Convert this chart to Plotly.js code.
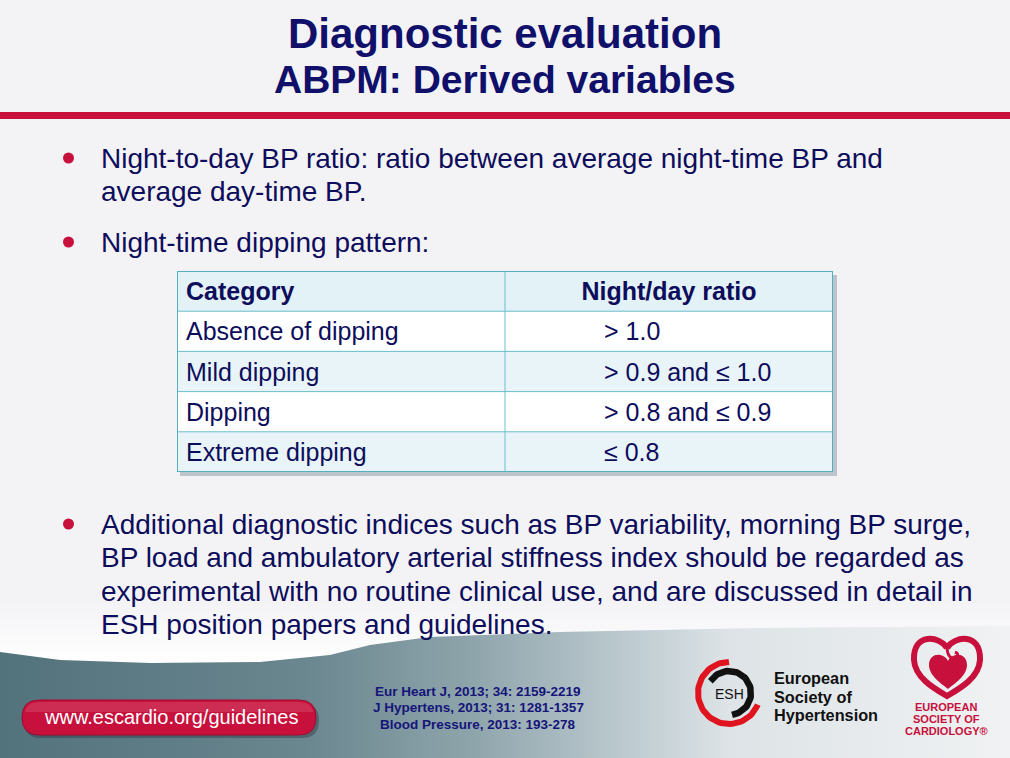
<!DOCTYPE html>
<html>
<head>
<meta charset="utf-8">
<script src="https://cdn.plot.ly/plotly-3.0.1.min.js"></script>
<style>
  html, body { margin: 0; padding: 0; background: #f3f3f6; }
  #chart { width: 1010px; height: 758px; }
</style>
</head>
<body>
<div id="chart"></div>
<script>
// ---------- content ----------
const titleLines = ['Diagnostic evaluation', 'ABPM: Derived variables'];

const bullet1 = ['Night-to-day BP ratio: ratio between average night-time BP and',
                 'average day-time BP.'];
const bullet2 = ['Night-time dipping pattern:'];
const bullet3 = ['Additional diagnostic indices such as BP variability, morning BP surge,',
                 'BP load and ambulatory arterial stiffness index should be regarded as',
                 'experimental with no routine clinical use, and are discussed in detail in',
                 'ESH position papers and guidelines.'];

const tableHeaders = ['Category', 'Night/day ratio'];
const categories = ['Absence of dipping', 'Mild dipping', 'Dipping', 'Extreme dipping'];
const ratios = ['> 1.0', '> 0.9 and \u2264 1.0', '> 0.8 and \u2264 0.9', '\u2264 0.8'];

const references = ['Eur Heart J, 2013; 34: 2159-2219',
                    'J Hypertens, 2013; 31: 1281-1357',
                    'Blood Pressure, 2013: 193-278'];
const urlText = 'www.escardio.org/guidelines';
const eshLines = ['European', 'Society of', 'Hypertension'];
const escLines = ['EUROPEAN', 'SOCIETY OF', 'CARDIOLOGY\u00ae'];

// ---------- styling ----------
const FONT = 'Liberation Sans, Arial, sans-serif';
const NAVY = '#10106a';
const TEXT = '#0d0d5c';
const RED = '#c8103c';
const W = 1010, H = 758;

const annotations = [];
const shapes = [];

function addText(text, x, y, size, color, opts) {
  opts = opts || {};
  annotations.push(Object.assign({
    text: text, x: x, y: y, xref: 'x', yref: 'y', showarrow: false,
    xanchor: 'left', yanchor: 'middle',
    font: { family: FONT, size: size, color: color, weight: opts.bold ? 'bold' : 'normal' }
  }, opts.extra || {}));
}

// Title
addText(titleLines[0], W / 2, 33, 42, NAVY, { bold: true, extra: { xanchor: 'center' } });
addText(titleLines[1], W / 2, 79, 39, NAVY, { bold: true, extra: { xanchor: 'center' } });

// red rule under title
shapes.push({ type: 'rect', xref: 'x', yref: 'y', x0: 0, x1: W, y0: 112, y1: 119,
  fillcolor: RED, line: { width: 0 }, layer: 'above' });

// bullets
function addBullet(lines, yStart, step) {
  shapes.push({ type: 'circle', xref: 'x', yref: 'y', x0: 63, x1: 74, y0: yStart - 5.5, y1: yStart + 5.5,
    fillcolor: RED, line: { width: 0 }, layer: 'above' });
  lines.forEach((t, i) => addText(t, 99, yStart + i * step, 28, TEXT));
}
addBullet(bullet1, 158, 33);
addBullet(bullet2, 242, 33);
addBullet(bullet3, 524, 33.6);

// ---------- footer background (decoration) ----------
const footer = {
  type: 'scatter', mode: 'lines',
  x: [0, 60, 150, 260, 330, 370, 430, 560, 760, 1010, 1010, 0],
  y: [652, 660, 663, 662, 655, 645, 637, 632, 628, 626, 758, 758],
  fill: 'toself', line: { width: 0, color: 'rgba(0,0,0,0)' }, hoverinfo: 'skip', showlegend: false,
  fillgradient: { type: 'horizontal',
    colorscale: [[0, '#52727c'], [0.3, '#6a868f'], [0.47, '#8fa5ac'], [0.62, '#bccacf'],
                 [0.72, '#dde3e6'], [1, '#f0f2f3']] }
};
const wave = {
  type: 'scatter', mode: 'lines',
  x: [0, 1010, 1010, 760, 560, 430, 370, 330, 260, 150, 60, 0],
  y: [600, 595, 626, 628, 632, 637, 645, 655, 662, 663, 660, 652],
  fill: 'toself', line: { width: 0, color: 'rgba(0,0,0,0)' }, hoverinfo: 'skip', showlegend: false,
  fillgradient: { type: 'vertical', start: 598, stop: 660,
    colorscale: [[0, 'rgba(255,255,255,0)'], [1, 'rgba(255,255,255,0.95)']] }
};

// URL button
shapes.push({ type: 'path', xref: 'x', yref: 'y', layer: 'above',
  path: 'M 41,703 L 302,703 Q 319,703 319,720.5 Q 319,738 302,738 L 41,738 Q 24,738 24,720.5 Q 24,703 41,703 Z',
  fillcolor: 'rgba(30,40,50,0.35)', line: { width: 0 } });
shapes.push({ type: 'path', xref: 'x', yref: 'y', layer: 'above',
  path: 'M 39,700 L 299,700 Q 316,700 316,717.5 Q 316,735 299,735 L 39,735 Q 22,735 22,717.5 Q 22,700 39,700 Z',
  fillcolor: RED, line: { width: 1, color: '#a00a30' } });
shapes.push({ type: 'path', xref: 'x', yref: 'y', layer: 'above',
  path: 'M 40,702 L 298,702 Q 312,702 313,712 L 25,712 Q 26,702 40,702 Z',
  fillcolor: 'rgba(255,255,255,0.12)', line: { width: 0 } });
addText(urlText, 171, 717, 20, '#ffffff', { extra: { xanchor: 'center' } });

// references
references.forEach((r, i) => addText(r, 478, 691 + i * 16.5, 13.5, '#15157a',
  { bold: true, extra: { xanchor: 'center' } }));

// ESH logo arcs (decoration)
function arc(cx, cy, r, a0, a1, n) {
  const xs = [], ys = [];
  for (let k = 0; k <= n; k++) {
    const a = (a0 + (a1 - a0) * k / n) * Math.PI / 180;
    xs.push(cx + r * Math.cos(a)); ys.push(cy + r * Math.sin(a));
  }
  return { xs, ys };
}
const redArc = arc(729, 693, 31, -90, -338, 60);
const blackArc = arc(729, 693, 22, -148, 82, 60);
const eshRed = { type: 'scatter', mode: 'lines', x: redArc.xs, y: redArc.ys,
  line: { color: '#e0141e', width: 6 }, hoverinfo: 'skip', showlegend: false };
const eshBlack = { type: 'scatter', mode: 'lines', x: blackArc.xs, y: blackArc.ys,
  line: { color: '#111111', width: 6.5 }, hoverinfo: 'skip', showlegend: false };
addText('ESH', 729, 694, 14, '#111111', { extra: { xanchor: 'center' } });
eshLines.forEach((t, i) => addText(t, 772, 678 + i * 18.5, 16.3, '#111111', { bold: true }));

// ESC heart logo
shapes.push({ type: 'path', xref: 'x', yref: 'y', layer: 'above',
  path: 'M 947,648 C 940,636 913,632 914,660 C 915,678 935,689 947,696 C 959,689 979,678 980,660 C 981,632 954,636 947,648',
  fillcolor: 'rgba(0,0,0,0)', line: { color: RED, width: 6 } });
shapes.push({ type: 'path', xref: 'x', yref: 'y', layer: 'above',
  path: 'M 948,661 C 944,652 929,652 929,665 C 929,676 942,684 948,689 C 954,684 967,676 967,665 C 967,652 952,652 948,661 Z',
  fillcolor: RED, line: { width: 0 } });
shapes.push({ type: 'path', xref: 'x', yref: 'y', layer: 'above',
  path: 'M 947,648 Q 948,660 956,658 Q 960,654 955,652',
  fillcolor: 'rgba(0,0,0,0)', line: { color: RED, width: 3 } });
escLines.forEach((t, i) => addText(t, 946, 707 + i * 12, 11, RED,
  { bold: true, extra: { xanchor: 'center' } }));

// ---------- table (grid on a row-index axis spanning the table box) ----------
const T = { x0: 177, x1: 833, y0: 271, y1: 472 };
const TW = T.x1 - T.x0;
const nRows = categories.length + 1;
const LINE = '#6bbfcd';
shapes.push({ type: 'rect', xref: 'x', yref: 'y', x0: T.x0 + 3, x1: T.x1 + 4, y0: T.y0 + 4, y1: T.y1 + 4,
  fillcolor: 'rgba(90,110,120,0.35)', line: { width: 0 }, layer: 'below' });
for (let r = 0; r < nRows; r++) {
  const fill = r === 0 ? '#e3f2f6' : (r % 2 === 1 ? '#ffffff' : '#e8f4f8');
  shapes.push({ type: 'rect', xref: 'x2', yref: 'y2', x0: 0, x1: TW, y0: r - 0.5, y1: r + 0.5,
    fillcolor: fill, line: { width: 0 }, layer: 'below' });
  if (r > 0) shapes.push({ type: 'line', xref: 'x2', yref: 'y2', x0: 0, x1: TW, y0: r - 0.5, y1: r - 0.5,
    line: { color: LINE, width: 1 }, layer: 'below' });
}
shapes.push({ type: 'line', xref: 'x2', yref: 'y2', x0: TW / 2, x1: TW / 2, y0: -0.5, y1: nRows - 0.5,
  line: { color: LINE, width: 1 }, layer: 'below' });
shapes.push({ type: 'rect', xref: 'x2', yref: 'y2', x0: 0, x1: TW, y0: -0.5, y1: nRows - 0.5,
  fillcolor: 'rgba(0,0,0,0)', line: { color: '#52b0c2', width: 2 }, layer: 'below' });

// table text
const rowIdx = categories.map((_, i) => i + 1);
const COL1_X = 9, COL2_X = 427, HDR2_X = TW * 0.75, DY = 0.07;
const TSIZE = 25;
const txtBase = { type: 'scatter', mode: 'text', xaxis: 'x2', yaxis: 'y2',
  hoverinfo: 'skip', showlegend: false, cliponaxis: false };
const catText = Object.assign({}, txtBase, {
  x: rowIdx.map(() => COL1_X), y: rowIdx.map(r => r + DY), text: categories, textposition: 'middle right',
  textfont: { family: FONT, size: TSIZE, color: TEXT } });
const ratioText = Object.assign({}, txtBase, {
  x: rowIdx.map(() => COL2_X), y: rowIdx.map(r => r + DY), text: ratios, textposition: 'middle right',
  textfont: { family: FONT, size: TSIZE, color: TEXT } });
const hdrText1 = Object.assign({}, txtBase, {
  x: [COL1_X], y: [DY], text: [tableHeaders[0]], textposition: 'middle right',
  textfont: { family: FONT, size: TSIZE, color: TEXT, weight: 'bold' } });
const hdrText2 = Object.assign({}, txtBase, {
  x: [HDR2_X], y: [DY], text: [tableHeaders[1]], textposition: 'middle center',
  textfont: { family: FONT, size: TSIZE, color: TEXT, weight: 'bold' } });

const layout = {
  width: W, height: H,
  margin: { l: 0, r: 0, t: 0, b: 0, pad: 0 },
  paper_bgcolor: '#f3f3f6', plot_bgcolor: 'rgba(0,0,0,0)',
  showlegend: false,
  xaxis: { range: [0, W], visible: false, fixedrange: true, domain: [0, 1] },
  yaxis: { range: [H, 0], visible: false, fixedrange: true, domain: [0, 1] },
  xaxis2: { range: [0, TW], visible: false, fixedrange: true,
            domain: [T.x0 / W, T.x1 / W], anchor: 'y2' },
  yaxis2: { range: [nRows - 0.5, -0.5], visible: false, fixedrange: true,
            domain: [1 - T.y1 / H, 1 - T.y0 / H], anchor: 'x2' },
  shapes: shapes,
  annotations: annotations
};

Plotly.newPlot('chart',
  [wave, footer, eshRed, eshBlack, catText, ratioText, hdrText1, hdrText2],
  layout, { displayModeBar: false, staticPlot: true });
</script>
</body>
</html>
